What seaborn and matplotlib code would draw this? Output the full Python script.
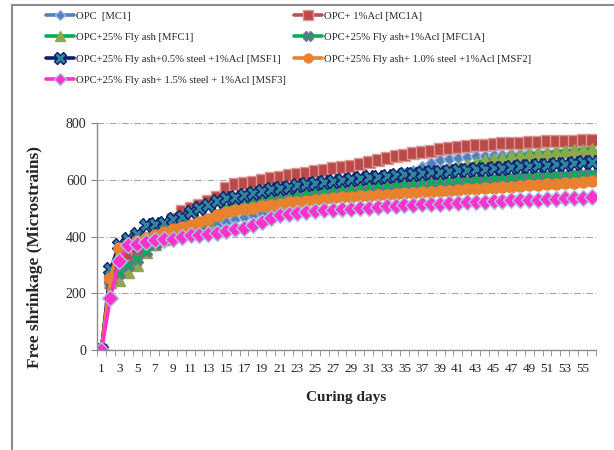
# coding: utf-8
# Free shrinkage vs curing days, Excel-style line chart redone with seaborn

import numpy as np
import seaborn as sns
import matplotlib.pyplot as plt
from matplotlib.patches import Rectangle
from matplotlib.ticker import MultipleLocator, FixedLocator

# DATA
days = list(range(1, 57))

opc_mc1 = [0, 250, 265, 300, 340, 355, 370, 380, 390, 398, 405, 415, 425, 440, 450, 460,
           468, 476, 484, 492, 500, 506, 512, 520, 528, 535, 540, 546, 552, 562, 575, 588,
           600, 612, 622, 632, 645, 660, 670, 674, 677, 680, 682, 684, 686, 688, 690, 692,
           694, 695, 696, 697, 698, 699, 700, 702]
acl_mc1a = [0, 250, 300, 340, 355, 390, 410, 430, 460, 490, 500, 510, 525, 540, 570, 585,
            588, 592, 598, 605, 610, 615, 620, 625, 630, 635, 640, 645, 650, 657, 663, 670,
            677, 683, 688, 694, 699, 703, 707, 711, 715, 718, 721, 724, 726, 728, 730, 731,
            733, 734, 735, 736, 737, 738, 739, 740]
fa_mfc1 = [0, 240, 248, 276, 300, 345, 375, 392, 408, 422, 432, 442, 455, 475, 495, 505,
           512, 520, 528, 535, 540, 545, 550, 555, 560, 565, 570, 575, 578, 582, 586, 590,
           594, 598, 602, 608, 615, 622, 630, 638, 645, 652, 660, 668, 673, 678, 683, 687,
           690, 693, 696, 699, 702, 704, 706, 710]
fa_mfc1a = [0, 250, 270, 300, 320, 350, 375, 395, 410, 425, 435, 445, 460, 480, 500, 508,
            515, 525, 530, 535, 540, 544, 548, 552, 556, 560, 564, 568, 572, 575, 578, 580,
            582, 584, 586, 588, 590, 592, 594, 596, 598, 600, 602, 604, 606, 608, 610, 612,
            614, 615, 616, 617, 618, 619, 620, 622]
st_msf1 = [0, 285, 370, 390, 410, 440, 445, 448, 462, 470, 485, 500, 510, 525, 535, 540,
           548, 555, 562, 568, 572, 576, 580, 584, 588, 592, 596, 600, 602, 605, 608, 610,
           613, 616, 619, 621, 624, 626, 629, 631, 633, 635, 637, 639, 641, 643, 645, 647,
           649, 651, 653, 655, 657, 659, 661, 664]
st_msf2 = [0, 255, 360, 372, 385, 395, 405, 415, 425, 432, 440, 450, 462, 475, 488, 493,
           498, 502, 507, 512, 516, 520, 523, 526, 529, 532, 535, 538, 540, 542, 544, 546,
           548, 550, 552, 554, 556, 558, 560, 562, 564, 566, 568, 570, 572, 574, 576, 578,
           580, 582, 584, 586, 588, 590, 592, 594]
st_msf3 = [0, 183, 315, 370, 375, 380, 386, 390, 392, 398, 404, 406, 410, 414, 418, 428,
           430, 440, 452, 466, 475, 480, 484, 487, 490, 493, 495, 496, 498, 500, 502, 504,
           506, 508, 510, 511, 513, 514, 516, 518, 519, 520, 522, 523, 524, 526, 527, 528,
           529, 530, 531, 532, 534, 535, 536, 538]

labels = ['OPC  [MC1]', 'OPC+ 1%Acl [MC1A]', 'OPC+25% Fly ash [MFC1]',
          'OPC+25% Fly ash+1%Acl [MFC1A]', 'OPC+25% Fly ash+0.5% steel +1%Acl [MSF1]',
          'OPC+25% Fly ash+ 1.0% steel +1%Acl [MSF2]',
          'OPC+25% Fly ash+ 1.5% steel + 1%Acl [MSF3]']
series = [opc_mc1, acl_mc1a, fa_mfc1, fa_mfc1a, st_msf1, st_msf2, st_msf3]

# line colour, marker, marker size, marker face, marker edge
styles = [
    ('#4F81BD', 'D', 6.5, '#4F81BD', '#9DB8DC'),
    ('#C0504D', 's', 8.5, '#B94A48', '#D99694'),
    ('#00B050', '^', 9, '#8EA84E', '#8EA84E'),
    ('#00B050', 'X', 8.5, '#00B050', '#7E6AA0'),
    ('#0A1F6E', 'X', 10, '#31859C', '#0A1F6E'),
    ('#E8822E', 'o', 8, '#E8822E', '#E8822E'),
    ('#FF33CC', 'D', 8, '#FF33CC', '#A8C0E0'),
]

sns.set_style('white')
plt.rcParams['font.family'] = ['Liberation Serif', 'DejaVu Serif']

fig = plt.figure(figsize=(6.14, 4.5), dpi=100)
ax = fig.add_axes([97 / 614, 1 - 350 / 450, 499 / 614, 227 / 450])

handles = []
for vals, lab, (lc, mk, ms, mfc, mec) in zip(series, labels, styles):
    sns.lineplot(x=days, y=vals, ax=ax, color=lc, linewidth=2.6, marker=mk,
                 markersize=ms, markerfacecolor=mfc, markeredgecolor=mec,
                 markeredgewidth=1.0, label=lab, legend=False)
    handles.append(ax.get_lines()[-1])

ax.set_xlim(0.5, 56.5)
ax.set_ylim(0, 800)
ax.yaxis.set_major_locator(MultipleLocator(200))
ax.xaxis.set_major_locator(FixedLocator(list(range(1, 56, 2))))
ax.xaxis.set_minor_locator(FixedLocator(list(np.arange(0.5, 57, 1.0))))
ax.tick_params(axis='x', which='major', length=0, labelsize=9.5, pad=9)
ax.tick_params(axis='x', which='minor', length=4, direction='out', color='#888888',
               bottom=True)
ax.tick_params(axis='y', which='major', length=4, direction='out', color='#888888',
               left=True, labelsize=10)

ax.grid(axis='y', color='#A6A6A6', linestyle=(0, (6, 2, 1, 2)), linewidth=0.8)
ax.grid(axis='x', visible=False)
for s in ['top', 'right']:
    ax.spines[s].set_visible(False)
for s in ['left', 'bottom']:
    ax.spines[s].set_color('#8C8C8C')
    ax.spines[s].set_linewidth(1.0)

ax.set_xlabel('Curing days', fontsize=11, fontweight='bold', labelpad=12)
ax.set_ylabel('Free shrinkage (Microstrains)', fontsize=12.5, fontweight='bold')
ax.yaxis.set_label_coords(-0.108, 0.41)

# legend rows are filled column by column, so reorder to match the 2-wide grid
order = [0, 2, 4, 6, 1, 3, 5]
fig.legend([handles[i] for i in order], [labels[i] for i in order],
           loc='upper left', bbox_to_anchor=(42 / 614, 1 - 7 / 450), ncol=2,
           frameon=False, fontsize=7.7, handlelength=2.6, handletextpad=0.15,
           columnspacing=0.8, labelspacing=1.12, numpoints=1, borderaxespad=0,
           markerscale=0.8)

# outer chart frame, cut off at the right and bottom like the screenshot
fig.patches.append(Rectangle((12 / 614, -0.1), 1.2, 1.1 - 5 / 450,
                             transform=fig.transFigure, fill=False,
                             edgecolor='#8C8C8C', linewidth=1.5))

fig.savefig('out.png', dpi=100)
